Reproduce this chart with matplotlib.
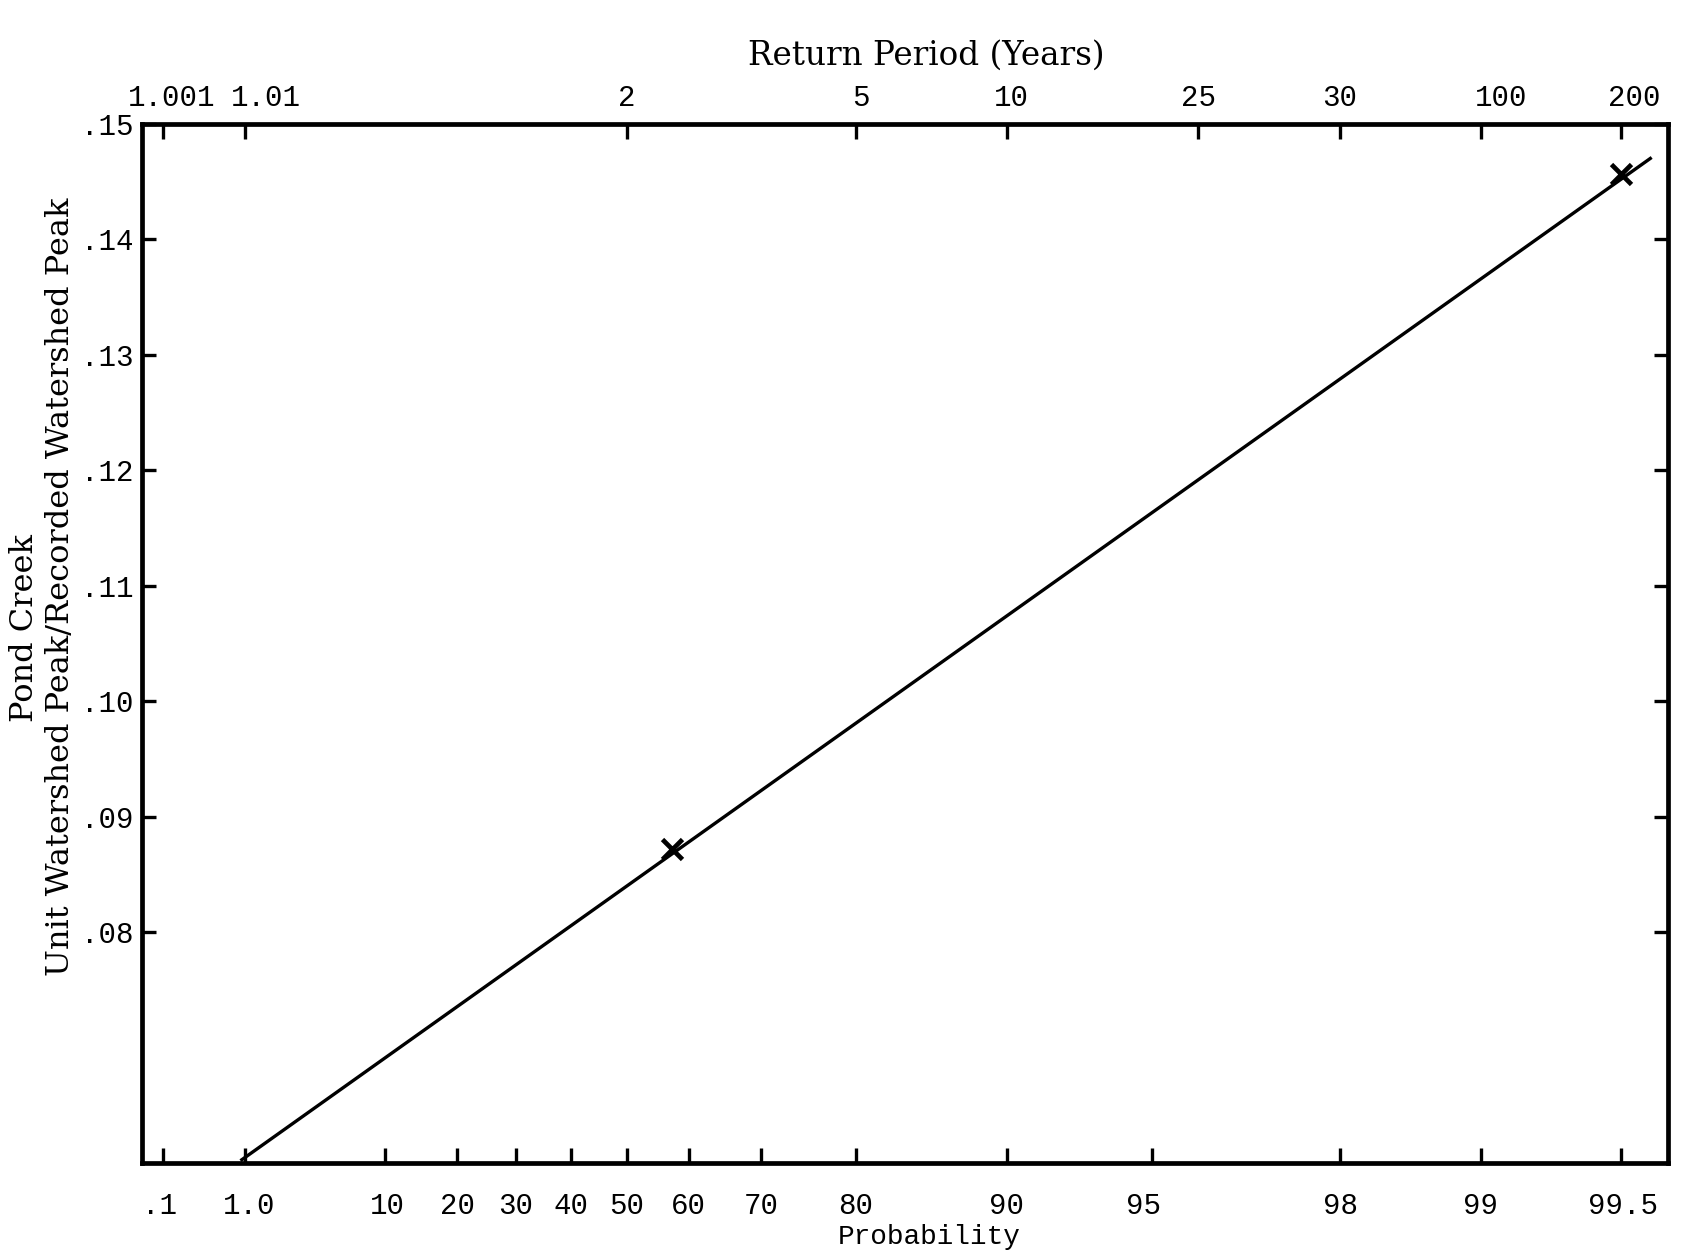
import numpy as np
import matplotlib
matplotlib.use("Agg")
import matplotlib.pyplot as plt
from matplotlib.transforms import ScaledTranslation

# ---- data ----
prob_ticks = [0.1, 1.0, 10, 20, 30, 40, 50, 60, 70, 80, 90, 95, 98, 99, 99.5]
prob_labels = [".1", "1.0", "10", "20", "30", "40", "50", "60", "70", "80",
               "90", "95", "98", "99", "99.5"]
return_periods = [1.001, 1.01, 2, 5, 10, 25, 50, 100, 200]
return_labels = ["1.001", "1.01", "2", "5", "10", "25", "30", "100", "200"]
ratio_ticks = [0.08, 0.09, 0.10, 0.11, 0.12, 0.13, 0.14, 0.15]
ratio_labels = [".08", ".09", ".10", ".11", ".12", ".13", ".14", ".15"]

line_prob = [0.9, 99.57]
line_ratio = [0.0602, 0.1471]
point_prob = [57.4, 99.5]
point_ratio = [0.0872, 0.1457]

# label nudges in pixels (styling only, as typed on the original sheet)
top_label_dx = [8, 21, 0, 5, 4, 0, 0, 20, 13]
bottom_label_dx = [-4, 4, 3, 0, 0, 0, 0, 0, 0, 0, 0, -9, 0, 0, 2]


# Gumbel (extreme value) probability scale
def fwd(p):
    p = np.clip(np.asarray(p, dtype=float) / 100.0, 1e-12, 1 - 1e-12)
    return -np.log(-np.log(p))


def inv(g):
    return 100.0 * np.exp(-np.exp(-np.asarray(g, dtype=float)))


W, H = 1704, 1255
fig = plt.figure(figsize=(W / 100, H / 100), dpi=100)
ax = fig.add_axes([142 / W, 1 - 1163 / H, (1668 - 142) / W, (1163 - 124) / H])

ax.set_xscale("function", functions=(fwd, inv))
xlim = (inv(-2.038), inv(5.528))
ax.set_xlim(*xlim)
ax.set_ylim(0.06, 0.15)

ax.plot(line_prob, line_ratio, color="black", lw=2.4, solid_capstyle="butt")
ax.plot(point_prob, point_ratio, linestyle="none", marker="x", color="black",
        ms=15, mew=3.4)

mono = "Liberation Mono"
serif = "DejaVu Serif"
tick_fs = 21

ax.set_xticks(prob_ticks)
ax.set_xticklabels(prob_labels, fontfamily=mono, fontsize=tick_fs)
ax.xaxis.set_minor_locator(matplotlib.ticker.NullLocator())
ax.set_yticks(ratio_ticks)
ax.set_yticklabels(ratio_labels, fontfamily=mono, fontsize=tick_fs)

ax.tick_params(axis="x", which="major", direction="in", length=11, width=2.4,
               pad=21, top=False, bottom=True, colors="black")
ax.tick_params(axis="y", which="major", direction="in", length=10, width=2.4,
               pad=6, left=True, right=True, labelright=False, colors="black")

for s in ax.spines.values():
    s.set_linewidth(3.4)
    s.set_color("black")

ax2 = ax.twiny()
ax2.set_xscale("function", functions=(fwd, inv))
ax2.set_xlim(*xlim)
ax2.set_xticks([100.0 * (1 - 1.0 / t) for t in return_periods])
ax2.set_xticklabels(return_labels, fontfamily=mono, fontsize=tick_fs)
ax2.xaxis.set_minor_locator(matplotlib.ticker.NullLocator())
ax2.tick_params(axis="x", direction="in", length=11, width=2.4, pad=9,
                top=True, bottom=False, colors="black")
for s in ax2.spines.values():
    s.set_visible(False)

for lab, dx in zip(ax2.get_xticklabels(), top_label_dx):
    lab.set_transform(lab.get_transform()
                      + ScaledTranslation(dx / 100, 0, fig.dpi_scale_trans))
for lab, dx in zip(ax.get_xticklabels(), bottom_label_dx):
    lab.set_transform(lab.get_transform()
                      + ScaledTranslation(dx / 100, 0, fig.dpi_scale_trans))

fig.text(926 / W, 1 - 56 / H, "Return Period (Years)", fontfamily=serif,
         fontsize=23.5, ha="center", va="center")
fig.text(929 / W, 1 - 1237 / H, "Probability", fontfamily=mono,
         fontsize=20, ha="center", va="center")
fig.text(25 / W, 1 - 628 / H, "Pond Creek", fontfamily=serif, fontsize=23,
         rotation=90, ha="center", va="center")
fig.text(61 / W, 1 - 587 / H, "Unit Watershed Peak/Recorded Watershed Peak",
         fontfamily=serif, fontsize=23, rotation=90, ha="center", va="center")

fig.savefig("out.png", dpi=100, facecolor="white")
